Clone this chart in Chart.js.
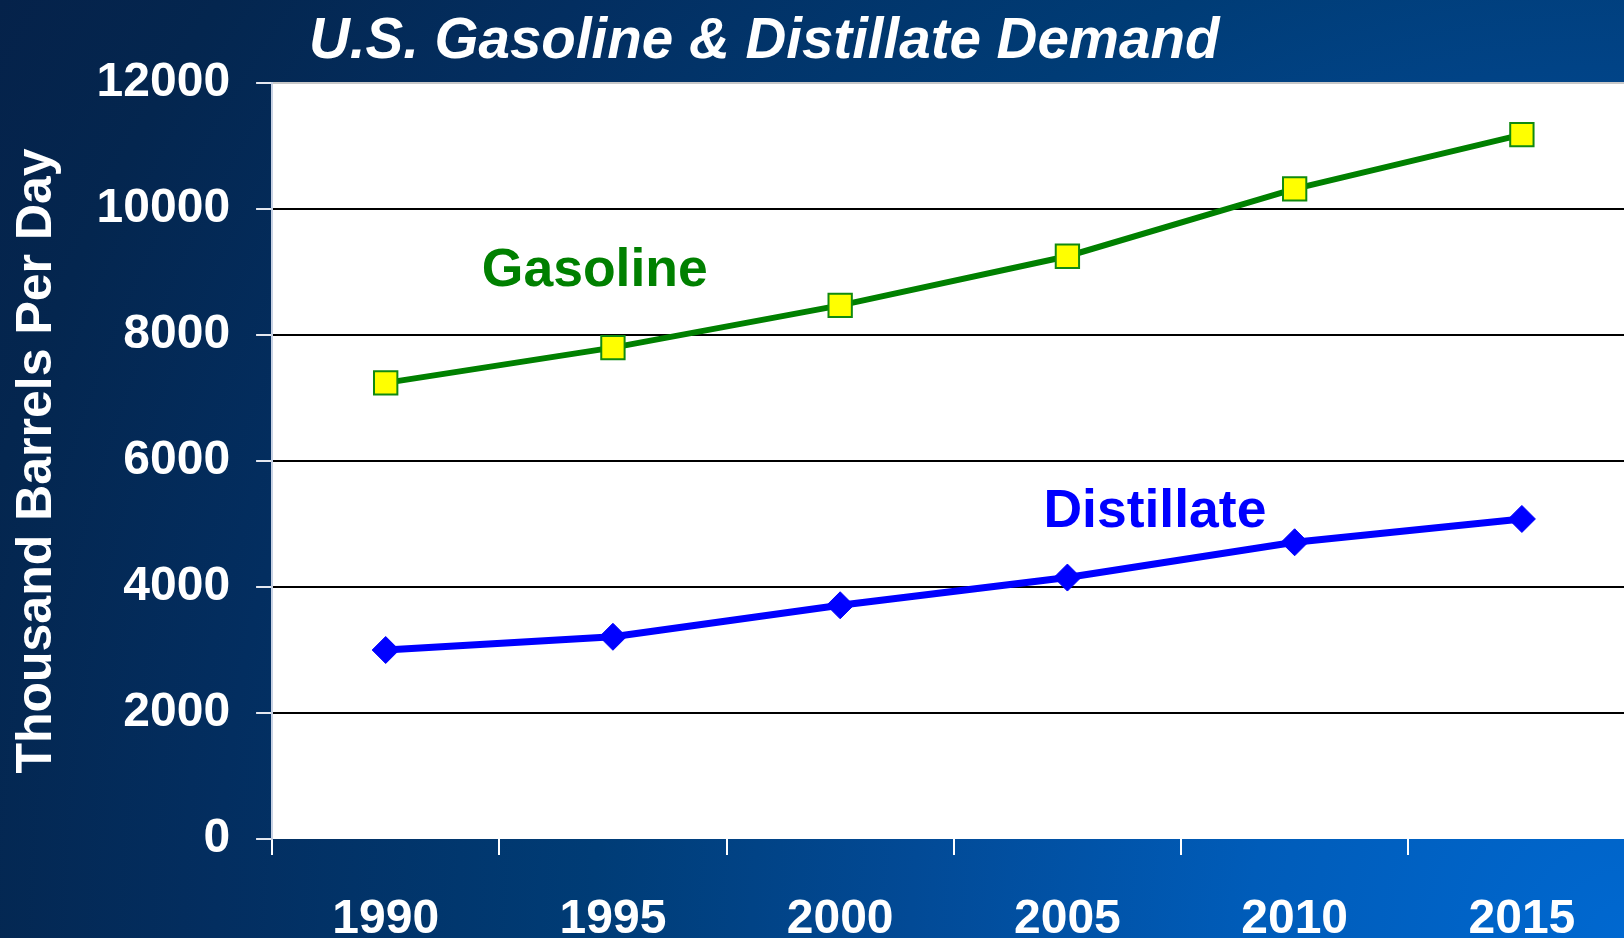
<!DOCTYPE html>
<html>
<head>
<meta charset="utf-8">
<script src="https://cdn.jsdelivr.net/npm/chart.js@4.4.1/dist/chart.umd.min.js"></script>
<style>
  html, body { margin: 0; padding: 0; width: 1624px; height: 938px; overflow: hidden; }
  body {
    background: radial-gradient(circle at 100% 100%,
      #0068d0 0%, #005cb9 20%, #024a96 38%, #003c76 55%, #032e60 75%, #04264f 90%, #05224a 100%);
  }
  #wrap { position: absolute; left: 0; top: 0; width: 1654px; height: 990px; }
</style>
</head>
<body>
<div id="wrap"><canvas id="c" width="1654" height="990"></canvas></div>
<script>
// ---- data ----
const chartTitle = 'U.S. Gasoline & Distillate Demand';
const yAxisTitle = 'Thousand Barrels Per Day';
const years = ['1990', '1995', '2000', '2005', '2010', '2015'];
const gasoline = [7240, 7800, 8470, 9250, 10320, 11180];
const distillate = [3000, 3210, 3710, 4150, 4710, 5080];
const yMin = 0;
const yMax = 12000;
const yStep = 2000;
const seriesNames = ['Gasoline', 'Distillate'];

// in-chart series labels, anchored in data space (category index, value)
const seriesNotes = [
  { text: seriesNames[0], at: 0.92, value: 9005, color: '#008000' },
  { text: seriesNames[1], at: 3.385, value: 5180, color: '#0000ff' }
];

const FONT = '"Liberation Sans", Arial, Helvetica, sans-serif';
Chart.defaults.font.family = FONT;

const decor = {
  id: 'decor',
  beforeDraw(chart) {
    const { ctx, chartArea: a } = chart;
    ctx.save();
    ctx.fillStyle = '#ffffff';
    ctx.fillRect(a.left, a.top, a.right - a.left, a.bottom - a.top);
    ctx.restore();
  },
  afterDraw(chart) {
    const { ctx, scales: { x, y } } = chart;
    ctx.save();
    ctx.font = 'bold 53.5px ' + FONT;
    ctx.textAlign = 'center';
    ctx.textBaseline = 'middle';
    seriesNotes.forEach(n => {
      ctx.fillStyle = n.color;
      ctx.fillText(n.text, x.getPixelForValue(n.at), y.getPixelForValue(n.value));
    });
    ctx.font = 'italic bold 56.5px ' + FONT;
    ctx.fillStyle = '#ffffff';
    ctx.textAlign = 'left';
    ctx.textBaseline = 'alphabetic';
    ctx.fillText(chartTitle, 309, 58);
    ctx.restore();
  }
};

new Chart(document.getElementById('c'), {
  type: 'line',
  data: {
    labels: years,
    datasets: [
      {
        label: seriesNames[0],
        data: gasoline,
        borderColor: '#008000',
        borderWidth: 6,
        pointStyle: 'rect',
        pointRadius: 16.5,
        pointBackgroundColor: '#ffff00',
        pointBorderColor: '#108a10',
        pointBorderWidth: 2,
        tension: 0,
        fill: false
      },
      {
        label: seriesNames[1],
        data: distillate,
        borderColor: '#0000ff',
        borderWidth: 7,
        pointStyle: 'rectRot',
        pointRadius: 13.5,
        pointBackgroundColor: '#0000ff',
        pointBorderColor: '#0000ff',
        pointBorderWidth: 1,
        tension: 0,
        fill: false
      }
    ]
  },
  options: {
    responsive: false,
    animation: false,
    layout: { padding: { top: 83, left: 0, right: 4, bottom: 5.4 } },
    plugins: {
      legend: { display: false },
      tooltip: { enabled: false },
      title: { display: false }
    },
    scales: {
      x: {
        offset: true,
        grid: {
          offset: true,
          drawOnChartArea: false,
          drawTicks: true,
          tickLength: 16,
          color: '#ffffff',
          lineWidth: 2
        },
        border: { display: false },
        ticks: {
          color: '#ffffff',
          padding: 36,
          font: { size: 48, weight: 'bold', lineHeight: 1.2 }
        }
      },
      y: {
        min: yMin,
        max: yMax,
        ticks: {
          stepSize: yStep,
          color: '#ffffff',
          padding: 26,
          font: { size: 48, weight: 'bold', lineHeight: 1.2 },
          callback: v => String(v)
        },
        grid: {
          color: c => c.tick.value === yMax ? '#c8c8c8' : (c.tick.value === yMin ? 'rgba(0,0,0,0)' : '#000000'),
          lineWidth: 2,
          tickLength: 16,
          tickColor: '#e4e8f0',
          tickWidth: 2
        },
        border: { display: true, color: '#c8d2e4', width: 2 },
        title: {
          display: true,
          text: yAxisTitle,
          color: '#ffffff',
          font: { size: 50, weight: 'bold', lineHeight: 1.2 },
          padding: { top: 7, bottom: 3.6 }
        }
      }
    }
  },
  plugins: [decor]
});
</script>
</body>
</html>
